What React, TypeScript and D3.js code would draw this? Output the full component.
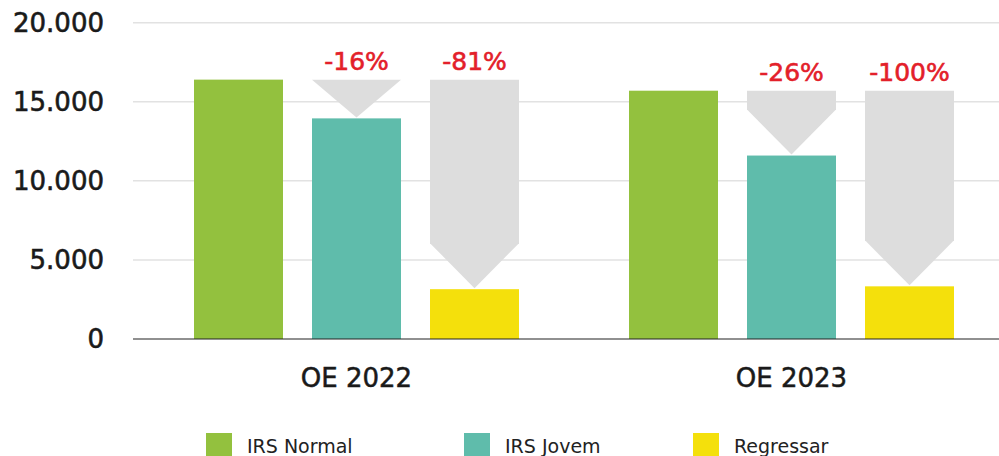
import React from "react";
import * as d3 from "d3";

const groups = ["OE 2022", "OE 2023"];
const seriesNames = ["IRS Normal", "IRS Jovem", "Regressar"];
const seriesColors = ["#93c13e", "#5fbcab", "#f4e00c"];
const irsNormal = [16400, 15700];
const irsJovem = [13950, 11600];
const regressar = [3150, 3330];
const changeJovem = ["-16%", "-26%"];
const changeRegressar = ["-81%", "-100%"];
const yTicks = [0, 5000, 10000, 15000, 20000];

const W = 999;
const H = 456;
const FONT = "'DejaVu Sans', sans-serif";

export default function App() {
  const y = d3.scaleLinear().domain([0, 20000]).range([339, 22.7]);
  const x0 = d3.scaleBand<string>().domain(groups).range([139, 1009]).padding(0);
  const x1 = d3
    .scaleBand<string>()
    .domain(seriesNames)
    .range([-162.5, 162.5])
    .paddingInner(29 / 118)
    .paddingOuter(0);
  const bw = x1.bandwidth();
  const values = [irsNormal, irsJovem, regressar];
  const fmt = (v: number) => d3.format(",")(v).replace(/,/g, ".");

  const arrow = (cx: number, yTop: number, yTip: number) => {
    const hw = bw / 2;
    const len = yTip - yTop;
    const head = Math.min(hw + 0.5, len);
    const pts: [number, number][] = [
      [cx - hw, yTop],
      [cx + hw, yTop],
      [cx + hw, yTip - head],
      [cx, yTip],
      [cx - hw, yTip - head],
    ];
    return d3.line()(pts) + "Z";
  };

  return (
    <svg
      width={W}
      height={H}
      style={{ position: "absolute", left: 0, top: 0, background: "#fff" }}
    >
      {yTicks.map((t) =>
        t === 0 ? null : (
          <line key={"g" + t} x1={133} x2={W} y1={y(t)} y2={y(t)} stroke="#e2e2e2" strokeWidth={1.5} />
        )
      )}
      {yTicks.map((t) => (
        <text
          key={"t" + t}
          x={104}
          y={y(t)}
          dy="0.36em"
          textAnchor="end"
          fontFamily={FONT}
          fontSize={26}
          fill="#1a1a1a"
          stroke="#1a1a1a"
          strokeWidth={0.6}
        >
          {fmt(t)}
        </text>
      ))}
      {groups.map((g, gi) => {
        const gc = (x0(g) as number) + x0.bandwidth() / 2;
        const refTop = y(values[0][gi]);
        return (
          <g key={g}>
            {seriesNames.map((s, si) => {
              const bx = gc + (x1(s) as number);
              return (
                <rect
                  key={s}
                  x={bx}
                  y={y(values[si][gi])}
                  width={bw}
                  height={y(0) - y(values[si][gi])}
                  fill={seriesColors[si]}
                />
              );
            })}
            {[1, 2].map((si) => {
              const cx = gc + (x1(seriesNames[si]) as number) + bw / 2;
              const label = si === 1 ? changeJovem[gi] : changeRegressar[gi];
              return (
                <g key={"a" + si}>
                  <path d={arrow(cx, refTop, y(values[si][gi]) - 1)} fill="#dddddd" />
                  <text
                    x={cx}
                    y={refTop - 10}
                    textAnchor="middle"
                    fontFamily={FONT}
                    fontSize={25}
                    fill="#e3202a"
                    stroke="#e3202a"
                    strokeWidth={0.6}
                  >
                    {label}
                  </text>
                </g>
              );
            })}
            <text
              x={gc}
              y={387}
              textAnchor="middle"
              fontFamily={FONT}
              fontSize={26}
              fill="#1a1a1a"
              stroke="#1a1a1a"
              strokeWidth={0.5}
            >
              {g}
            </text>
          </g>
        );
      })}
      <line x1={133} x2={W} y1={y(0)} y2={y(0)} stroke="#222" strokeWidth={1.2} />
      {seriesNames.map((s, i) => {
        const lx = [206, 464, 693][i];
        return (
          <g key={"l" + s}>
            <rect x={lx} y={433} width={26} height={26} fill={seriesColors[i]} />
            <text x={lx + 41} y={452.5} fontFamily={FONT} fontSize={19} fill="#222">
              {s}
            </text>
          </g>
        );
      })}
    </svg>
  );
}
